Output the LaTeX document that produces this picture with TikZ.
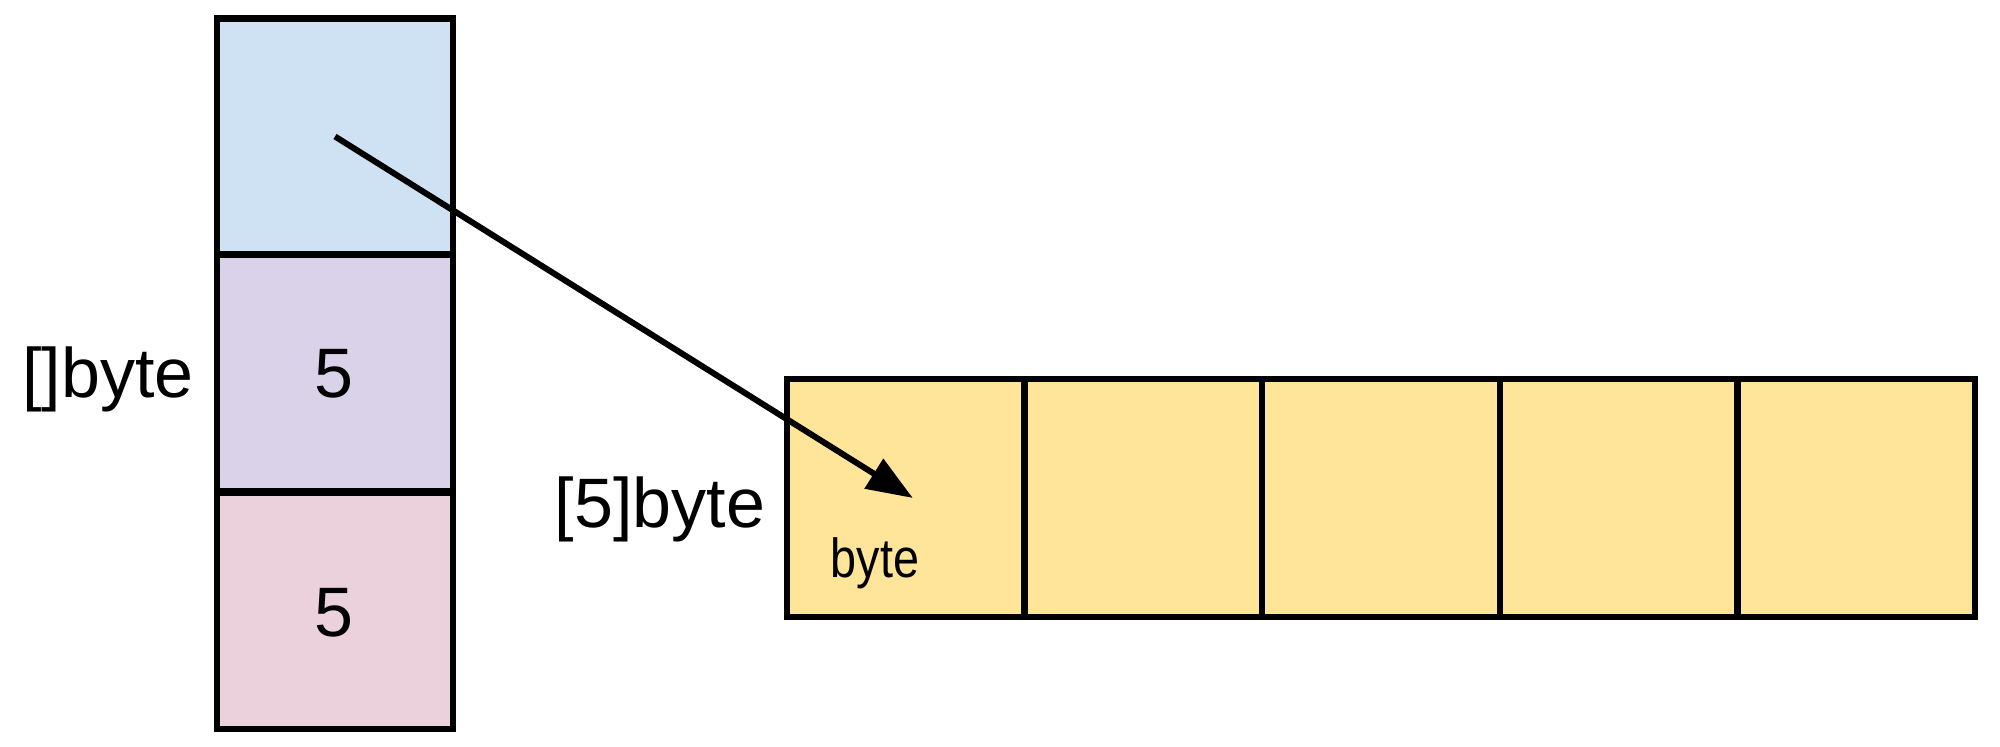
\documentclass[tikz,border=0pt]{standalone}
\usepackage{fontspec}
\usepackage{graphicx}
\setmainfont{Liberation Sans}
\usetikzlibrary{arrows.meta}
\definecolor{cblue}{HTML}{CFE2F3}
\definecolor{cpurple}{HTML}{D9D2E9}
\definecolor{cpink}{HTML}{EAD1DC}
\definecolor{cyellow}{HTML}{FFE599}
\tikzset{
  cell/.style={draw=black, line width=3.2pt, minimum width=118pt, minimum height=118pt, inner sep=0pt, outer sep=0pt},
  acell/.style={cell, fill=cyellow, minimum width=118.8pt, minimum height=119pt},
  bigtxt/.style={font=\fontsize{35}{42}\selectfont, inner sep=0pt, anchor=base},
  smalltxt/.style={font=\fontsize{27.5}{33}\selectfont, inner sep=0pt, anchor=base},
  ptr/.style={line width=3pt, -{Triangle[length=23pt,width=17pt]}}
}
\begin{document}
\begin{tikzpicture}[x=0.5pt,y=-0.5pt]
\useasboundingbox (0,0) rectangle (2000,747);
% slice header
\node[cell, fill=cblue]   (ptrcell) at (335,136.5) {};
\node[cell, fill=cpurple] (lencell) at (335,373) {};
\node[cell, fill=cpink]   (capcell) at (335,611) {};
\node[bigtxt] (lenv) at (334,398) {5};
\node[bigtxt] (capv) at (334,636) {5};
\node[bigtxt] (slicelbl) at (108,398) {[]byte};
% array
\node[acell] (a1) at (905.8,498) {};
\node[acell] (a2) at (1143.4,498) {};
\node[acell] (a3) at (1381,498) {};
\node[acell] (a4) at (1618.6,498) {};
\node[acell] (a5) at (1856.2,498) {};
\node[bigtxt] (arrlbl) at (660,528) {[5]byte};
\node[smalltxt] (bytelbl) at (875,578) {\scalebox{0.85}[1]{byte}};
% pointer
\coordinate (tip) at ([xshift=3.5pt]a1.center);
\draw[ptr] (ptrcell.center) -- (tip);
\end{tikzpicture}
\end{document}
